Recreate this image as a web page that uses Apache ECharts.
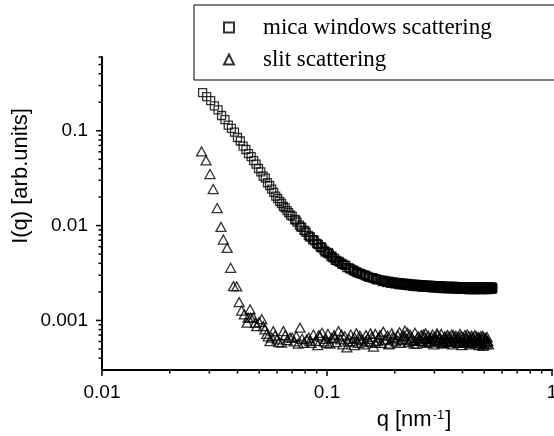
<!DOCTYPE html>
<html>
<head>
<meta charset="utf-8">
<script src="https://cdn.jsdelivr.net/npm/echarts@6/dist/echarts.min.js"></script>
<style>
  html, body { margin: 0; padding: 0; background: #fff; }
  #chart { width: 554px; height: 436px; }
</style>
</head>
<body>
<div id="chart"></div>
<script>
// 云母窗散射 [q, I]
const micaPoints = [
  [0.0280,0.253],[0.0292,0.229],[0.0304,0.208],[0.0316,0.183],[0.0328,0.166],[0.0340,0.145],
  [0.0352,0.131],[0.0364,0.115],[0.0376,0.106],[0.0388,0.097],[0.0400,0.085],[0.0412,0.078],
  [0.0424,0.069],[0.0436,0.0635],[0.0448,0.0575],[0.0460,0.0535],[0.0472,0.0485],[0.0484,0.0445],
  [0.0496,0.0400],[0.0508,0.0368],[0.0520,0.0332],[0.0532,0.0316],[0.0544,0.0283],[0.0556,0.0264],
  [0.0568,0.0243],[0.0580,0.0224],[0.0592,0.0205],[0.0604,0.0193],[0.0616,0.0180],[0.0628,0.0171],
  [0.0640,0.0159],[0.0652,0.0154],[0.0664,0.0144],[0.0676,0.0137],[0.0688,0.0129],[0.0700,0.0126],
  [0.0718,0.0116],[0.0736,0.0109],[0.0754,0.0101],[0.0772,0.0096],[0.0790,0.0089],[0.0808,0.0085],
  [0.0826,0.0079],[0.0844,0.0076],[0.0862,0.0071],[0.0880,0.0069],[0.0898,0.0065],[0.0916,0.0063],
  [0.0934,0.0059],[0.0952,0.0058],[0.0970,0.0055],[0.0988,0.0053],[0.1006,0.0051],[0.1024,0.0050],
  [0.1042,0.0047],[0.1060,0.0046],[0.1080,0.0045],[0.1100,0.0043],[0.1120,0.0042],[0.1140,0.0041],
  [0.1160,0.0040],[0.1180,0.0039],[0.1200,0.0038],[0.1225,0.0036],[0.1250,0.0036],[0.1275,0.0035],
  [0.1300,0.0034],[0.1325,0.0033],[0.1350,0.00326],[0.1375,0.00318],[0.1400,0.00314],[0.1430,0.00306],
  [0.1460,0.00302],[0.1490,0.00294],[0.1520,0.00291],[0.1550,0.00285],[0.1580,0.00283],[0.1610,0.00277],
  [0.1640,0.00275],[0.1670,0.00270],[0.1700,0.00269],
  [0.0727,0.0114],[0.0763,0.0097],[0.0799,0.0088],[0.0835,0.0076],[0.0871,0.0071],[0.0907,0.0064],
  [0.0943,0.0060],[0.0979,0.0053],[0.1015,0.0052],[0.1051,0.0048],[0.1090,0.0043],[0.1130,0.0042],
  [0.1170,0.0039],[0.1212,0.0038],[0.1262,0.0035],[0.1312,0.0034],[0.1362,0.0032],[0.1415,0.0031],
  [0.1475,0.0030],[0.1535,0.00285],[0.1595,0.00282],[0.1655,0.00270],
  [0.174,0.00266],[0.178,0.00259],[0.182,0.00260],[0.186,0.00254],[0.190,0.00255],[0.194,0.00249],
  [0.198,0.00250],[0.202,0.00245],[0.206,0.00248],[0.210,0.00242],[0.214,0.00245],[0.218,0.00239],
  [0.222,0.00243],[0.226,0.00236],[0.230,0.00240],[0.234,0.00234],[0.238,0.00238],[0.242,0.00232],
  [0.246,0.00237],[0.250,0.00231],[0.254,0.00236],[0.258,0.00229],[0.262,0.00234],[0.266,0.00228],
  [0.270,0.00233],[0.274,0.00227],[0.278,0.00232],[0.282,0.00226],[0.286,0.00231],[0.290,0.00225],
  [0.294,0.00230],[0.298,0.00224],[0.302,0.00229],[0.306,0.00223],[0.310,0.00228],[0.314,0.00222],
  [0.318,0.00228],[0.322,0.00221],[0.326,0.00227],[0.330,0.00222],[0.334,0.00226],[0.338,0.00220],
  [0.342,0.00227],[0.346,0.00221],[0.350,0.00225],[0.354,0.00219],[0.358,0.00226],[0.362,0.00220],
  [0.366,0.00225],[0.370,0.00219],[0.374,0.00226],[0.378,0.00220],[0.382,0.00224],[0.386,0.00218],
  [0.390,0.00225],[0.394,0.00219],[0.398,0.00224],[0.402,0.00218],[0.406,0.00225],[0.410,0.00219],
  [0.414,0.00223],[0.418,0.00218],[0.422,0.00225],[0.426,0.00219],[0.430,0.00223],[0.434,0.00217],
  [0.438,0.00224],[0.442,0.00219],[0.446,0.00223],[0.450,0.00217],[0.454,0.00225],[0.458,0.00219],
  [0.462,0.00222],[0.466,0.00217],[0.470,0.00224],[0.474,0.00218],[0.478,0.00223],[0.482,0.00217],
  [0.486,0.00224],[0.490,0.00219],[0.494,0.00222],[0.498,0.00217],[0.502,0.00224],[0.506,0.00218],
  [0.510,0.00223],[0.514,0.00217],[0.518,0.00224],[0.522,0.00219],[0.526,0.00222],[0.530,0.00217],
  [0.534,0.00223],[0.538,0.00218],[0.542,0.00222],[0.546,0.00220],
  [0.176,0.00256],[0.180,0.00265],[0.184,0.00251],[0.188,0.00259],[0.192,0.00246],[0.196,0.00256],
  [0.200,0.00243],[0.204,0.00252],[0.208,0.00239],[0.212,0.00250],[0.216,0.00237],[0.220,0.00247],
  [0.224,0.00234],[0.228,0.00245],[0.232,0.00232],[0.236,0.00243],[0.240,0.00230],[0.244,0.00241],
  [0.248,0.00228],[0.252,0.00240],[0.256,0.00227],[0.260,0.00238],[0.264,0.00225],[0.268,0.00237],
  [0.272,0.00224],[0.276,0.00236],[0.280,0.00223],[0.284,0.00235],[0.288,0.00222],[0.292,0.00234],
  [0.296,0.00221],[0.300,0.00233],[0.304,0.00220],[0.308,0.00232],[0.312,0.00219],[0.316,0.00231],
  [0.320,0.00218],[0.324,0.00231],[0.328,0.00217],[0.332,0.00230],[0.336,0.00217],[0.340,0.00229],
  [0.344,0.00216],[0.348,0.00229],[0.352,0.00216],[0.356,0.00228],[0.360,0.00215],[0.364,0.00228],
  [0.368,0.00215],[0.372,0.00228],[0.376,0.00214],[0.380,0.00227],[0.384,0.00214],[0.388,0.00227],
  [0.392,0.00214],[0.396,0.00227],[0.400,0.00213],[0.404,0.00226],[0.408,0.00213],[0.412,0.00226],
  [0.416,0.00213],[0.420,0.00226],[0.424,0.00212],[0.428,0.00226],[0.432,0.00212],[0.436,0.00225],
  [0.440,0.00213],[0.444,0.00226],[0.448,0.00212],[0.452,0.00225],[0.456,0.00212],[0.460,0.00226],
  [0.464,0.00213],[0.468,0.00225],[0.472,0.00212],[0.476,0.00226],[0.480,0.00213],[0.484,0.00225],
  [0.488,0.00212],[0.492,0.00226],[0.496,0.00213],[0.500,0.00225],[0.504,0.00212],[0.508,0.00226],
  [0.512,0.00213],[0.516,0.00225],[0.520,0.00212],[0.524,0.00226],[0.528,0.00213],[0.532,0.00225],
  [0.536,0.00213],[0.540,0.00226],[0.544,0.00214]
];

// 狭缝散射 [q, I]
const slitPoints = [
  [0.0277,0.0605],[0.0290,0.0487],[0.0302,0.0350],[0.0312,0.0243],[0.0325,0.0153],[0.0338,0.00968],
  [0.0346,0.00713],[0.0360,0.00582],[0.0373,0.00359],[0.0384,0.00230],[0.0397,0.00228],[0.0407,0.00156],
  [0.0417,0.00127],[0.0429,0.00116],[0.0441,0.000946],[0.0446,0.00107],[0.0455,0.00131],[0.0458,0.00107],
  [0.0470,0.00107],[0.0480,0.00094],[0.0487,0.000871],[0.0499,0.00096],[0.0513,0.00103],[0.0521,0.000871],
  [0.0530,0.000804],[0.0540,0.00072],[0.0548,0.00068],[0.0558,0.000605],[0.0568,0.00066],[0.0577,0.000771],
  [0.0588,0.00069],[0.0600,0.00063],[0.0612,0.00059],[0.0629,0.000582],[0.0640,0.000771],[0.0652,0.00070],
  [0.0665,0.00062],[0.0685,0.000657],[0.0700,0.00066],[0.0715,0.00060],[0.0730,0.00068],[0.0745,0.00057],
  [0.0759,0.000838],[0.0775,0.00064],[0.0790,0.00058],[0.0812,0.000631],
  [0.0830,0.00066],[0.0850,0.00058],[0.0870,0.00071],[0.0890,0.00061],[0.0910,0.00055],[0.0930,0.00068],
  [0.0950,0.00074],[0.0970,0.00060],[0.0990,0.00064],[0.1010,0.00072],[0.1030,0.00057],[0.1050,0.00065],
  [0.1075,0.00070],[0.1100,0.00059],[0.1125,0.00077],[0.1150,0.00063],[0.1175,0.00056],[0.1200,0.00068],
  [0.1225,0.00052],[0.1250,0.00064],[0.1275,0.00071],[0.1300,0.00060],[0.1325,0.00066],[0.1350,0.00073],
  [0.1375,0.00058],[0.1400,0.00069],[0.1430,0.00062],[0.1460,0.00056],[0.1490,0.00070],[0.1520,0.00064],
  [0.1550,0.00059],[0.1580,0.00067],[0.1610,0.00053],[0.1640,0.00072],[0.1670,0.00061],[0.1700,0.00066],
  [0.1740,0.00058],[0.1780,0.00076],[0.1820,0.00063],[0.1860,0.00069],[0.1900,0.00057],[0.1940,0.00073],
  [0.1980,0.00065],[0.2020,0.00060],[0.2060,0.00070],[0.2100,0.00075],[0.2140,0.00062],[0.2180,0.00068],
  [0.2220,0.00078],[0.2260,0.00064],[0.2300,0.00059],[0.2340,0.00071],[0.2380,0.00066],[0.2420,0.00061],
  [0.2460,0.00074],[0.2500,0.00057],[0.2540,0.00068],[0.2580,0.00063],[0.2620,0.00070],[0.2660,0.00060],
  [0.2700,0.00066],[0.2740,0.00073],[0.2780,0.00058],[0.2820,0.00069],[0.2860,0.00064],[0.2900,0.00061],
  [0.2940,0.00071],[0.2980,0.00056],[0.3020,0.00067],[0.3060,0.00063],[0.3100,0.00070],[0.3140,0.00059],
  [0.3180,0.00066],[0.3220,0.00072],[0.3260,0.00061],[0.3300,0.00057],[0.3340,0.00068],[0.3380,0.00064],
  [0.3420,0.00070],[0.3460,0.00059],[0.3500,0.00066],[0.3540,0.00062],[0.3580,0.00071],[0.3620,0.00056],
  [0.3660,0.00065],[0.3700,0.00060],[0.3740,0.00069],[0.3780,0.00063],[0.3820,0.00058],[0.3860,0.00067],
  [0.3900,0.00072],[0.3940,0.00061],[0.3980,0.00055],[0.4020,0.00066],[0.4060,0.00062],[0.4100,0.00070],
  [0.4140,0.00058],[0.4180,0.00064],[0.4220,0.00060],[0.4260,0.00068],[0.4300,0.00056],[0.4340,0.00063],
  [0.4380,0.00069],[0.4420,0.00059],[0.4460,0.00065],[0.4500,0.00061],[0.4540,0.00070],[0.4580,0.00057],
  [0.4620,0.00064],[0.4660,0.00060],[0.4700,0.00067],[0.4740,0.00055],[0.4780,0.00062],[0.4820,0.00068],
  [0.4860,0.00058],[0.4900,0.00064],[0.4940,0.00054],[0.4980,0.00066],[0.5020,0.00060],[0.5060,0.00063],
  [0.5100,0.00057],[0.5140,0.00067],[0.5180,0.00061],[0.5220,0.00056],
  [0.0840,0.00061],[0.0920,0.00070],[0.1000,0.00058],[0.1080,0.00066],[0.1160,0.00071],[0.1240,0.00060],
  [0.1320,0.00055],[0.1400,0.00064],[0.1480,0.00060],[0.1560,0.00073],[0.1640,0.00058],[0.1720,0.00070],
  [0.1800,0.00062],[0.1880,0.00056],[0.1960,0.00067],[0.2040,0.00063],[0.2120,0.00058],[0.2200,0.00069],
  [0.2280,0.00074],[0.2360,0.00062],[0.2440,0.00057],[0.2520,0.00065],[0.2600,0.00061],[0.2680,0.00071],
  [0.2760,0.00064],[0.2840,0.00059],[0.2920,0.00066],[0.3000,0.00062],[0.3080,0.00073],[0.3160,0.00063],
  [0.3240,0.00058],[0.3320,0.00065],[0.3400,0.00061],[0.3480,0.00068],[0.3560,0.00059],[0.3640,0.00070],
  [0.3720,0.00063],[0.3800,0.00066],[0.3880,0.00058],[0.3960,0.00068],[0.4040,0.00059],[0.4120,0.00065],
  [0.4200,0.00071],[0.4280,0.00061],[0.4360,0.00058],[0.4440,0.00067],[0.4520,0.00063],[0.4600,0.00068],
  [0.4680,0.00058],[0.4760,0.00065],[0.4840,0.00061],[0.4920,0.00069],[0.5000,0.00056],[0.5080,0.00065],
  [0.5160,0.00059]
];

// 坐标轴刻度
const xMajorTicks = [0.01, 0.1, 1];
const xMinorTicks = [0.02, 0.03, 0.04, 0.05, 0.06, 0.07, 0.08, 0.09,
  0.2, 0.3, 0.4, 0.5, 0.6, 0.7, 0.8, 0.9];
const yMajorTicks = [0.001, 0.01, 0.1];
const yMinorTicks = [0.0004, 0.0005, 0.0006, 0.0007, 0.0008, 0.0009,
  0.002, 0.003, 0.004, 0.005, 0.006, 0.007, 0.008, 0.009,
  0.02, 0.03, 0.04, 0.05, 0.06, 0.07, 0.08, 0.09,
  0.2, 0.3, 0.4, 0.5, 0.6];
const xTickLabels = ['0.01', '0.1', '1'];
const yTickLabels = ['0.001', '0.01', '0.1'];

const xMin = 0.01, xMax = 1;
const yMin = 0.0003, yMax = 0.6;

const sans = 'Liberation Sans';
const serif = 'Liberation Serif';

// 刻度线：x 轴向下，y 轴向左
function xTickSeries(ticks, len) {
  return {
    type: 'custom',
    silent: true,
    z: 5,
    data: ticks.map(function (v) { return [v, yMin]; }),
    renderItem: function (params, api) {
      const p = api.coord([api.value(0), api.value(1)]);
      return {
        type: 'line',
        shape: { x1: p[0], y1: p[1], x2: p[0], y2: p[1] + len },
        style: { stroke: '#000', lineWidth: 1.5 },
      };
    },
  };
}
function yTickSeries(ticks, len) {
  return {
    type: 'custom',
    silent: true,
    z: 5,
    data: ticks.map(function (v) { return [xMin, v]; }),
    renderItem: function (params, api) {
      const p = api.coord([api.value(0), api.value(1)]);
      return {
        type: 'line',
        shape: { x1: p[0] - len, y1: p[1], x2: p[0], y2: p[1] },
        style: { stroke: '#000', lineWidth: 1.5 },
      };
    },
  };
}

function pickLabel(list) {
  return function (v) {
    const s = String(Number(Number(v).toPrecision(6)));
    return list.indexOf(s) >= 0 ? s : '';
  };
}

const myChart = echarts.init(document.getElementById('chart'), null, { renderer: 'canvas' });

const option = {
  backgroundColor: '#fff',
  animation: false,
  grid: {
    left: 102,
    right: 2,
    top: 57,
    bottom: 66,
    containLabel: false,
    outerBoundsMode: 'none',
  },
  legend: {
    data: ['mica windows scattering', 'slit scattering'],
    orient: 'vertical',
    left: 194,
    top: 5,
    padding: [11, 80, 9, 29],
    itemGap: 9,
    itemWidth: 10,
    itemHeight: 10,
    borderColor: '#000',
    borderWidth: 1,
    borderRadius: 0,
    backgroundColor: '#fff',
    selectedMode: false,
    textStyle: { fontFamily: serif, fontSize: 23, color: '#000', padding: [0, 0, 0, 24] },
  },
  xAxis: {
    type: 'log',
    logBase: 10,
    min: xMin,
    max: xMax,
    axisLine: { lineStyle: { color: '#000', width: 2 } },
    axisTick: { show: false },
    splitLine: { show: false },
    axisLabel: {
      color: '#000',
      fontFamily: sans,
      fontSize: 19,
      margin: 13,
      formatter: pickLabel(xTickLabels),
    },
  },
  yAxis: {
    type: 'log',
    logBase: 10,
    min: yMin,
    max: yMax,
    axisLine: { lineStyle: { color: '#000', width: 2 } },
    axisTick: { show: false },
    splitLine: { show: false },
    axisLabel: {
      color: '#000',
      fontFamily: sans,
      fontSize: 19,
      margin: 14,
      formatter: pickLabel(yTickLabels),
    },
  },
  graphic: [
    {
      type: 'text',
      x: 21,
      y: 176,
      rotation: Math.PI / 2,
      style: {
        text: 'I(q) [arb.units]',
        font: '22px "Liberation Sans"',
        fill: '#000',
        align: 'center',
        verticalAlign: 'middle',
      },
    },
    {
      type: 'text',
      x: 414,
      y: 420,
      style: {
        text: 'q [nm{sup|-1}]',
        font: '22px "Liberation Sans"',
        fill: '#000',
        align: 'center',
        verticalAlign: 'middle',
        rich: {
          sup: { fontSize: 13, fontFamily: sans, verticalAlign: 'top', padding: [0, 1, 9, 1] },
        },
      },
    },
  ],
  series: [
    {
      name: 'mica windows scattering',
      type: 'scatter',
      symbol: 'rect',
      symbolSize: 8,
      data: micaPoints,
      itemStyle: { color: 'rgba(0,0,0,0)', borderColor: '#000', borderWidth: 1.3 },
      z: 3,
    },
    {
      name: 'slit scattering',
      type: 'scatter',
      symbol: 'triangle',
      symbolSize: [10, 9],
      data: slitPoints,
      itemStyle: { color: 'rgba(0,0,0,0)', borderColor: '#000', borderWidth: 1.3 },
      z: 3,
    },
    xTickSeries(xMajorTicks, 6),
    xTickSeries(xMinorTicks, 3.5),
    yTickSeries(yMajorTicks, 6),
    yTickSeries(yMinorTicks, 3.5),
  ],
};

myChart.setOption(option);
window.onresize = myChart.resize;
</script>
</body>
</html>
